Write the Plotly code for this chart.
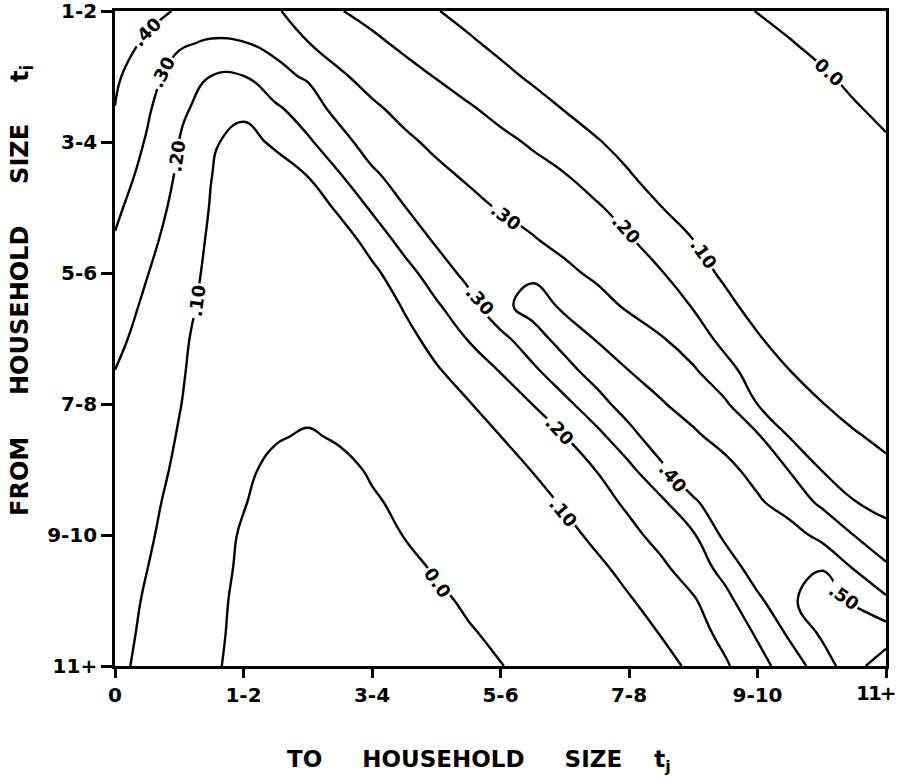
import plotly.graph_objects as go

# ---------------- data ----------------
x_tick_labels = ["0", "1-2", "3-4", "5-6", "7-8", "9-10", "11+"]
y_tick_labels = ["1-2", "3-4", "5-6", "7-8", "9-10", "11+"]

# grid positions (in tick-index units)
x_grid = [0.0, 0.25, 0.5, 0.75, 1.0, 1.25, 1.5, 1.75, 2.0, 2.25, 2.5, 2.75, 3.0,
          3.25, 3.5, 3.75, 4.0, 4.25, 4.5, 4.75, 5.0, 5.25, 5.5, 5.75, 6.0]
y_grid = [0.0, 0.25, 0.5, 0.75, 1.0, 1.25, 1.5, 1.75, 2.0, 2.25, 2.5, 2.75, 3.0,
          3.25, 3.5, 3.75, 4.0, 4.25, 4.5, 4.75, 5.0]

# surface values (rows: from "1-2" to "11+")
z_values = [
    [.460, .425, .392, .362, .333, .310, .255, .204, .170, .137, .104, .071, .081, .071, .061, .051, .040, .030, .020, .010, -.001, -.010, -.020, -.030, -.040],
    [.437, .386, .310, .288, .297, .318, .303, .264, .221, .182, .148, .114, .079, .084, .073, .063, .053, .043, .033, .022, .012, .002, -.008, -.018, -.028],
    [.416, .335, .261, .198, .197, .277, .310, .311, .272, .234, .196, .159, .123, .087, .086, .076, .065, .055, .045, .035, .024, .014, .004, -.007, -.017],
    [.398, .312, .222, .152, .127, .181, .252, .332, .314, .279, .245, .211, .174, .135, .097, .058, .078, .067, .057, .046, .035, .025, .014, .003, -.007],
    [.370, .292, .198, .116, .056, .121, .185, .266, .346, .315, .284, .253, .222, .189, .148, .107, .066, .080, .069, .058, .047, .036, .025, .014, .003],
    [.345, .271, .186, .101, .071, .042, .104, .196, .283, .346, .317, .289, .260, .232, .203, .156, .106, .056, .079, .068, .057, .046, .035, .024, .013],
    [.318, .247, .172, .094, .071, .070, .030, .122, .213, .297, .350, .322, .294, .266, .238, .210, .162, .102, .043, .079, .068, .057, .046, .035, .024],
    [.293, .225, .156, .086, .067, .057, .074, .046, .142, .232, .313, .373, .340, .307, .274, .241, .208, .157, .101, .043, .078, .067, .056, .045, .034],
    [.269, .203, .141, .080, .063, .043, .061, .078, .075, .164, .248, .329, .375, .383, .320, .282, .243, .205, .144, .080, .086, .076, .065, .055, .044],
    [.246, .183, .128, .074, .061, .035, .052, .069, .031, .109, .188, .264, .375, .437, .386, .335, .286, .241, .195, .127, .060, .084, .075, .065, .055],
    [.222, .167, .116, .066, .059, .035, .043, .059, .076, .067, .136, .205, .273, .360, .439, .395, .351, .307, .242, .174, .110, .046, .083, .074, .065],
    [.199, .155, .109, .064, .058, .034, .034, .050, .066, .081, .089, .145, .203, .279, .364, .443, .401, .357, .314, .229, .159, .102, .046, .083, .075],
    [.191, .147, .103, .060, .054, .029, .021, .037, .052, .067, .083, .094, .147, .201, .276, .361, .450, .408, .360, .313, .199, .152, .104, .056, .086],
    [.182, .138, .095, .066, .036, .006, -.008, .008, .026, .045, .063, .082, .099, .149, .198, .273, .364, .464, .417, .365, .313, .197, .155, .113, .072],
    [.173, .130, .086, .051, .015, -.019, -.050, -.019, .008, .026, .045, .064, .055, .104, .153, .203, .279, .378, .487, .429, .363, .296, .197, .162, .127],
    [.164, .120, .075, .042, .004, -.030, -.063, -.043, -.008, .014, .032, .050, .068, .061, .112, .163, .218, .282, .382, .479, .415, .351, .284, .203, .171],
    [.156, .111, .066, .031, -.008, -.045, -.083, -.063, -.030, .002, .020, .037, .055, .073, .071, .123, .175, .231, .290, .424, .490, .443, .371, .299, .230],
    [.147, .101, .053, .025, -.012, -.049, -.085, -.081, -.050, -.019, .007, .024, .041, .059, .076, .080, .131, .182, .247, .335, .460, .492, .497, .394, .316],
    [.138, .0905, .056, .019, -.017, -.053, -.089, -.099, -.070, -.041, -.013, .010, .027, .045, .062, .080, .092, .141, .190, .271, .377, .490, .530, .489, .417],
    [.129, .084, .051, .016, -.020, -.056, -.091, -.119, -.088, -.061, -.034, -.006, .013, .031, .049, .066, .048, .105, .161, .227, .312, .416, .515, .556, .546],
    [.120, .078, .046, .011, -.023, -.056, -.090, -.123, -.109, -.082, -.055, -.029, -.002, .017, .034, .053, .071, .058, .124, .189, .264, .348, .448, .565, .660],
]

level_start = 0.0
level_end = 0.6
level_step = 0.1

# contour labels as printed on the map
label_text = [".40", ".30", ".20", ".10", ".30", ".20", ".10", "0.0",
              ".30", ".20", ".10", ".40", ".50", "0.0"]
label_x = [0.25, 0.37, 0.48, 0.64, 3.04, 3.98, 4.58, 5.56,
           2.84, 3.46, 3.49, 4.34, 5.67, 2.51]
label_y = [0.16, 0.47, 1.11, 2.21, 1.57, 1.67, 1.85, 0.47,
           2.21, 3.20, 3.83, 3.56, 4.47, 4.36]
label_angle = [-45, -63, -82, -82, 37, 48, 55, 42,
               48, 47, 50, 50, 35, 55]

# ---------------- figure ----------------
FONT = "DejaVu Sans"
nb = "\u00a0"

fig = go.Figure()
fig.add_trace(go.Contour(
    x=x_grid, y=y_grid, z=z_values,
    contours=dict(start=level_start, end=level_end, size=level_step,
                  coloring="none", showlabels=False),
    line=dict(color="black", width=2.4, smoothing=1.3),
    showscale=False, hoverinfo="skip",
))

annotations = []
for t, lx, ly, a in zip(label_text, label_x, label_y, label_angle):
    annotations.append(dict(
        x=lx, y=ly, xref="x", yref="y", text=t, showarrow=False,
        textangle=a, bgcolor="white", borderpad=1,
        font=dict(family=FONT, size=18, color="black", weight="bold"),
    ))

annotations.append(dict(
    x=0.472, y=-0.145, xref="paper", yref="paper", showarrow=False,
    text="TO" + nb * 5 + "HOUSEHOLD" + nb * 5 + "SIZE" + nb * 4 + "t<sub>j</sub>",
    font=dict(family=FONT, size=23, color="black", weight="bold"),
    xanchor="center", yanchor="middle",
))
annotations.append(dict(
    x=-0.122, y=0.574, xref="paper", yref="paper", showarrow=False,
    text="FROM" + nb * 5 + "HOUSEHOLD" + nb * 5 + "SIZE" + nb * 5 + "t<sub>i</sub>",
    textangle=-90,
    font=dict(family=FONT, size=24, color="black", weight="bold"),
    xanchor="center", yanchor="middle",
))

# the last x label sits on the right border: it is set flush right there
x_tick_text = list(x_tick_labels[:-1]) + [""]
annotations.append(dict(
    x=len(x_tick_labels) - 1, y=0, xref="x", yref="paper",
    xanchor="right", yanchor="middle", xshift=11, yshift=-27,
    showarrow=False,
    text='<span style="letter-spacing:-2px">' + x_tick_labels[-1] + "</span>",
    font=dict(family=FONT, size=20, color="black", weight="bold"),
))

axis_common = dict(
    showline=True, linewidth=2.6, linecolor="black", mirror=True,
    ticks="outside", tickwidth=2.6, tickcolor="black",
    showgrid=False, zeroline=False, automargin=False,
    ticklabeloverflow="allow",
    tickfont=dict(family=FONT, size=20, color="black", weight="bold"),
)
fig.update_layout(
    width=899, height=784,
    margin=dict(l=115, r=13, t=11, b=118, autoexpand=False),
    paper_bgcolor="white", plot_bgcolor="white",
    showlegend=False,
    xaxis=dict(range=[0, 6], tickvals=list(range(len(x_tick_labels))),
               ticktext=x_tick_text, ticklen=9, **axis_common),
    yaxis=dict(range=[5, 0], tickvals=list(range(len(y_tick_labels))),
               ticktext=y_tick_labels, ticklen=11, **axis_common),
    annotations=annotations,
)

fig.write_html("out.html", config={"displayModeBar": False},
               post_script="document.body.style.margin='0px';document.body.style.overflow='hidden';")
